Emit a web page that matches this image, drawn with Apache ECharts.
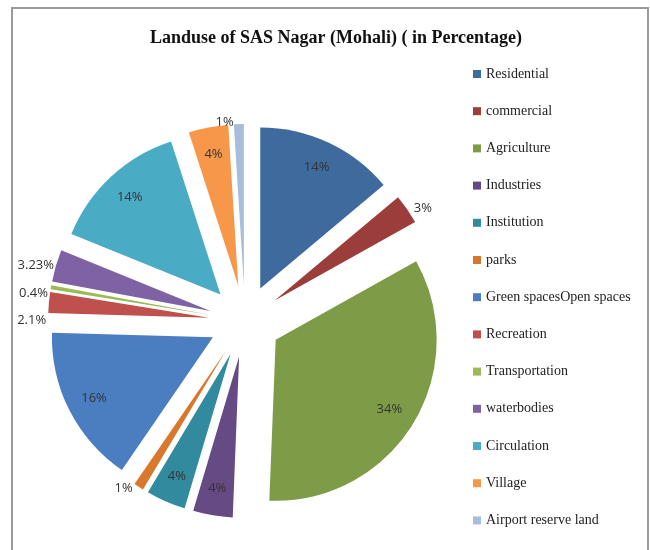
<!DOCTYPE html>
<html>
<head>
<meta charset="utf-8">
<script src="https://cdn.jsdelivr.net/npm/echarts@6/dist/echarts.min.js"></script>
<style>
  html, body { margin: 0; padding: 0; background: #fff; }
  #wrap { position: relative; width: 650px; height: 550px; }
  #chart { width: 650px; height: 550px; }
  /* the grey frame around the chart area */
  #frame {
    position: absolute; left: 11px; top: 7px; width: 634px; height: 560px;
    border: 2px solid #9a9a9a; border-bottom: none; pointer-events: none;
  }
</style>
</head>
<body>
<div id="wrap">
  <div id="chart"></div>
  <div id="frame"></div>
</div>
<script>
// 数据
const categories = ['Residential', 'commercial', 'Agriculture', 'Industries', 'Institution', 'parks',
  'Green spacesOpen spaces', 'Recreation', 'Transportation', 'waterbodies', 'Circulation', 'Village',
  'Airport reserve land'];
const values = [14, 3, 34, 4, 4, 1, 16, 2.1, 0.4, 3.23, 14, 4, 1];
const colors = ['#3e6a9d', '#9b3d3b', '#7e9c47', '#654a84', '#318a9e', '#d9782d', '#4a7ec0',
  '#c0504d', '#9bbb59', '#7f62a3', '#4aabc5', '#f7974a', '#a8bcdc'];

const chart = echarts.init(document.getElementById('chart'));

const center = [245, 321];
const radius = 161;
const explode = 36;

// 主饼图（无标签）
const pieData = categories.map((name, i) => ({
  name: name,
  value: values[i],
  selected: true,
  itemStyle: { color: colors[i] }
}));

// 透明环，用来放标签（大块放在里面，小块放外面）
const labelData = categories.map((name, i) => {
  const small = values[i] < 3.5;
  return {
    name: name,
    value: values[i],
    selected: true,
    itemStyle: { color: 'rgba(0,0,0,0)' },
    label: { position: small ? 'outside' : 'inside' }
  };
});

chart.setOption({
  animation: false,
  title: {
    text: 'Landuse of SAS Nagar (Mohali) ( in Percentage)',
    left: 331,
    textAlign: 'center',
    top: 24,
    textStyle: { fontFamily: 'Liberation Serif', fontSize: 18, fontWeight: 'bold', color: '#111' }
  },
  legend: {
    orient: 'vertical',
    left: 468,
    top: 62,
    icon: 'rect',
    itemWidth: 8,
    itemHeight: 8,
    itemGap: 23.2,
    selectedMode: false,
    data: categories,
    textStyle: { fontFamily: 'Liberation Serif', fontSize: 14, color: '#222' }
  },
  series: [
    {
      name: 'landuse',
      type: 'pie',
      center: center,
      radius: radius,
      startAngle: 90,
      clockwise: true,
      selectedMode: 'multiple',
      selectedOffset: explode,
      avoidLabelOverlap: false,
      label: { show: false },
      labelLine: { show: false },
      emphasis: { disabled: true },
      itemStyle: { borderColor: '#fff', borderWidth: 0 },
      data: pieData
    },
    {
      name: 'labels',
      type: 'pie',
      center: center,
      radius: [radius * 0.62, radius],
      startAngle: 90,
      clockwise: true,
      selectedMode: 'multiple',
      selectedOffset: explode,
      silent: true,
      avoidLabelOverlap: true,
      label: {
        show: true,
        formatter: p => p.value + '%',
        fontFamily: 'Open Sans',
        fontSize: 13,
        lineHeight: 22,
        color: '#333'
      },
      labelLine: { show: false, length: 2, length2: 0 },
      emphasis: { disabled: true },
      data: labelData
    }
  ]
});
</script>
</body>
</html>
